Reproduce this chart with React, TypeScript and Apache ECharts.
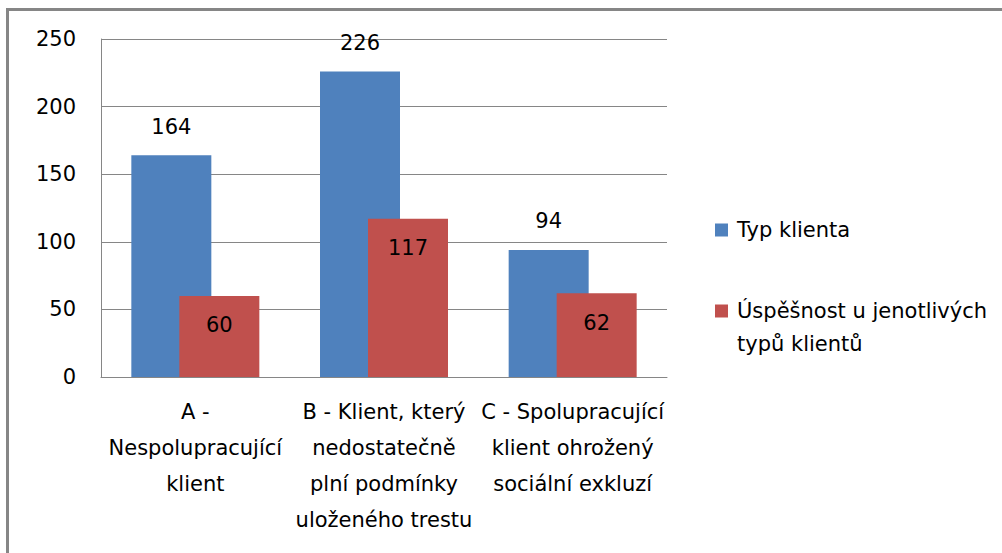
import React, { useEffect, useRef } from "react";
import * as echarts from "echarts";

const categories = [
  "A -\nNespolupracující\nklient",
  "B - Klient, který\nnedostatečně\nplní podmínky\nuloženého trestu",
  "C - Spolupracující\nklient ohrožený\nsociální exkluzí",
];
const seriesNames = ["Typ klienta", "Úspěšnost u jenotlivých typů klientů"];
const typKlienta = [164, 226, 94];
const uspesnost = [60, 117, 62];
const yTicks = { min: 0, max: 250, interval: 50 };

const FONT = "DejaVu Sans";

export default function App() {
  const ref = useRef<HTMLDivElement>(null);
  useEffect(() => {
    document.body.style.margin = "0";
    const chart = echarts.init(ref.current!, null, { renderer: "svg" });
    const txt = { fontFamily: FONT, fontSize: 21, color: "#000" };
    chart.setOption({
      animation: false,
      backgroundColor: "#fff",
      grid: { left: 101, top: 39, right: 335, bottom: 176, containLabel: false },
      xAxis: {
        type: "category",
        data: categories,
        axisLine: { show: true, lineStyle: { color: "#868686", width: 1 } },
        axisTick: { show: false },
        axisLabel: { ...txt, interval: 0, margin: 17, lineHeight: 36, align: "center" },
      },
      yAxis: {
        type: "value",
        min: yTicks.min,
        max: yTicks.max,
        interval: yTicks.interval,
        axisLine: { show: true, lineStyle: { color: "#868686", width: 1 } },
        axisTick: { show: false },
        splitLine: { show: true, lineStyle: { color: "#868686", width: 1 } },
        axisLabel: { ...txt, margin: 25 },
      },
      legend: [
        {
          data: [seriesNames[0]],
          orient: "vertical",
          left: 710,
          top: 208.5,
          icon: "rect",
          itemWidth: 13,
          itemHeight: 13,
          itemGap: 0,
          textStyle: { ...txt, lineHeight: 33, padding: [0, 0, 0, 4] },
        },
        {
          data: [seriesNames[1]],
          orient: "vertical",
          left: 710,
          top: 256.5,
          icon: "rect",
          itemWidth: 13,
          itemHeight: 13,
          itemGap: 0,
          formatter: () => "\nÚspěšnost u jenotlivých\ntypů klientů",
          textStyle: { ...txt, lineHeight: 33, padding: [0, 0, 0, 4] },
        },
      ],
      graphic: [
        {
          type: "rect",
          shape: { x: 7.5, y: 9.5, width: 1100, height: 700 },
          style: { fill: "none", stroke: "#868686", lineWidth: 3 },
          silent: true,
        },
      ],
      series: [
        {
          name: seriesNames[0],
          type: "bar",
          data: typKlienta,
          barWidth: 80,
          barGap: "-40%",
          itemStyle: { color: "#4F81BD" },
          label: { show: true, position: "top", distance: 18, ...txt },
        },
        {
          name: seriesNames[1],
          type: "bar",
          data: uspesnost,
          barWidth: 80,
          barGap: "-40%",
          itemStyle: { color: "#C0504D" },
          label: { show: true, position: "insideTop", distance: 19, ...txt },
        },
      ],
    });
    return () => chart.dispose();
  }, []);
  return <div ref={ref} style={{ width: 1002, height: 553 }} />;
}
